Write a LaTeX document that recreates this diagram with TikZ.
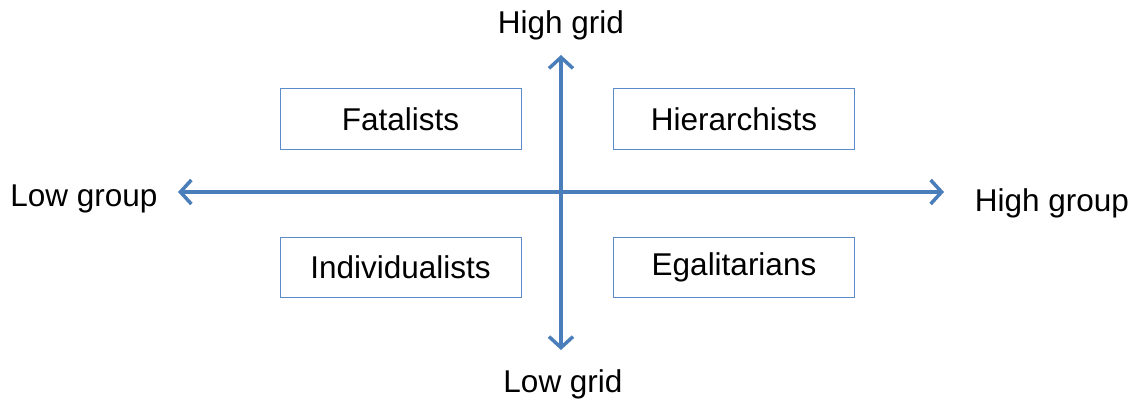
\documentclass[tikz,border=0pt]{standalone}
\usepackage{fontspec}
\setmainfont{Liberation Sans}
\usetikzlibrary{arrows.meta}
\definecolor{axisblue}{HTML}{4A7EBB}
\definecolor{boxblue}{HTML}{5B8BC9}
\tikzset{
  axis/.style={draw=axisblue, line width=3.5pt, {Straight Barb[length=11pt,width=24pt,line width=3.5pt]}-{Straight Barb[length=11pt,width=24pt,line width=3.5pt]}},
  quadbox/.style={draw=boxblue, line width=1pt, minimum width=241pt, minimum height=60pt, inner sep=0pt, font=\fontsize{31.5}{36}\selectfont},
  lbl/.style={font=\fontsize{31.5}{36}\selectfont, inner sep=0pt}
}
\begin{document}
\begin{tikzpicture}[x=1pt,y=-1pt]
\useasboundingbox (0,0) rectangle (1137,401);
\coordinate (vt) at (561,55);
\coordinate (vb) at (561,350);
\coordinate (hl) at (178,192);
\coordinate (hr) at (944,192);
\draw[axis] (vb) -- (vt);
\draw[axis] (hl) -- (hr);
\node[quadbox] (fat) at (400.5,119) {\raisebox{-2pt}{Fatalists}};
\node[quadbox] (hie) at (734,119) {\raisebox{-2pt}{Hierarchists}};
\node[quadbox] (ind) at (400.5,267) {\raisebox{-2pt}{Individualists}};
\node[quadbox] (ega) at (734,267) {\raisebox{-2pt}{Egalitarians}};
\node[lbl] (hg) at (561,25) {High grid};
\node[lbl] (lg) at (563,384) {Low grid};
\node[lbl] (lgr) at (84,199) {Low group};
\node[lbl] (hgr) at (1052,203) {High group};
\end{tikzpicture}
\end{document}
